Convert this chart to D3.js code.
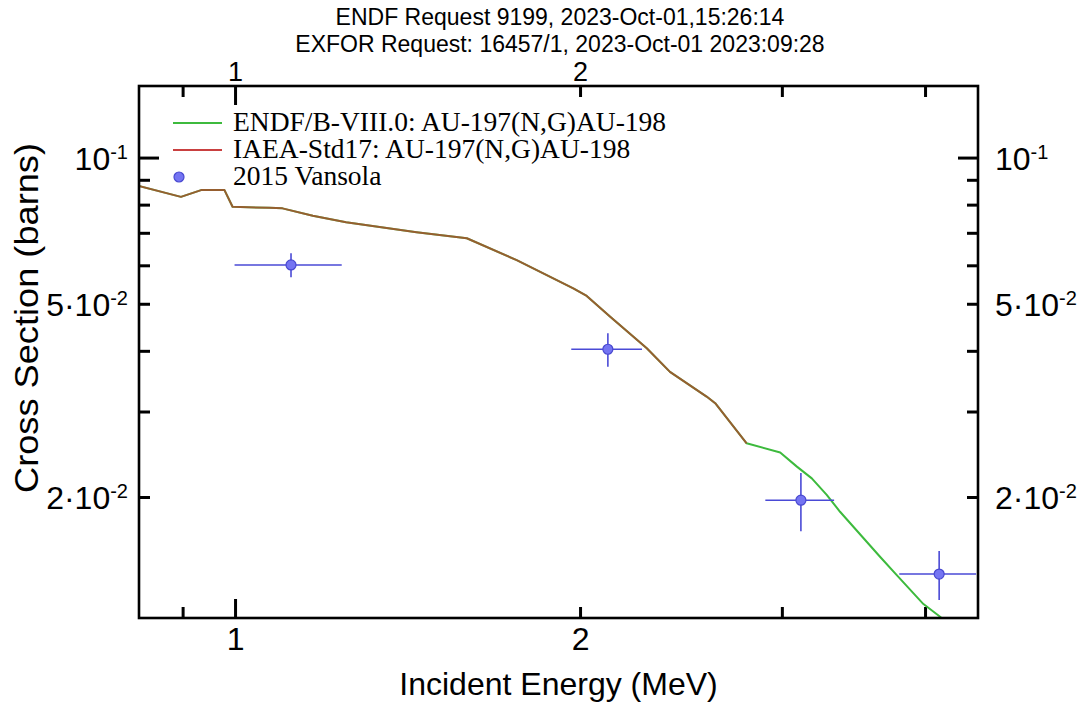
<!DOCTYPE html>
<html>
<head>
<meta charset="utf-8">
<script src="https://cdn.jsdelivr.net/npm/d3@7"></script>
<style>
  html, body { margin: 0; padding: 0; background: #fff; }
  svg { display: block; }
  .sans { font-family: "Liberation Sans", Arial, sans-serif; fill: #000; }
  .serif { font-family: "Liberation Serif", "Times New Roman", serif; fill: #000; }
</style>
</head>
<body>
<svg id="chart" width="1084" height="705"></svg>
<script>
// Au-197(n,g)Au-198 capture cross section, evaluated curves and measurement
const endfE  = [0.82, 0.897, 0.934, 0.979, 0.995, 1.071, 1.10, 1.169, 1.25, 1.44, 1.593, 1.761, 1.973, 2.027, 2.125, 2.287, 2.396, 2.579, 2.624, 2.795, 2.99, 3.092, 3.186, 3.283, 3.372, 3.654, 3.779, 3.987, 4.123, 4.25];
const endfXS = [0.0877, 0.0830, 0.0857, 0.0857, 0.0792, 0.0788, 0.0786, 0.0759, 0.0736, 0.0702, 0.0682, 0.0615, 0.0538, 0.0519, 0.0470, 0.0405, 0.0362, 0.0322, 0.0312, 0.0258, 0.0247, 0.0231, 0.02185, 0.0202, 0.01865, 0.01507, 0.01381, 0.01204, 0.01134, 0.0105];

const iaeaE  = [0.82, 0.897, 0.934, 0.979, 0.995, 1.071, 1.10, 1.169, 1.25, 1.44, 1.593, 1.761, 1.973, 2.027, 2.125, 2.287, 2.396, 2.579, 2.624, 2.795];
const iaeaXS = [0.0877, 0.0830, 0.0857, 0.0857, 0.0792, 0.0788, 0.0786, 0.0759, 0.0736, 0.0702, 0.0682, 0.0615, 0.0538, 0.0519, 0.0470, 0.0405, 0.0362, 0.0322, 0.0312, 0.0258];

// 2015 Vansola data with energy and cross-section uncertainties
const expE   = [1.119, 2.115, 3.117, 4.115];
const expDE  = [0.12, 0.15, 0.215, 0.317];
const expXS  = [0.0601, 0.0403, 0.0197, 0.01388];
const expDXS = [0.0034, 0.0032, 0.0027, 0.0016];

const xTicks = [0.9, 1, 2, 3, 4];
const xTickLabels = { 1: "1", 2: "2" };
const yTicks = [0.02, 0.03, 0.04, 0.05, 0.06, 0.07, 0.08, 0.09, 0.1];
const yTickLabels = { 0.1: ["10", "-1"], 0.05: ["5\u00b710", "-2"], 0.02: ["2\u00b710", "-2"] };

const legendItems = [
  { label: "ENDF/B-VIII.0: AU-197(N,G)AU-198", kind: "line", color: "#3dba3d" },
  { label: "IAEA-Std17: AU-197(N,G)AU-198", kind: "line", color: "#c94040" },
  { label: "2015 Vansola", kind: "point", color: "#7474f2" }
];

const titleLines = ["ENDF Request 9199, 2023-Oct-01,15:26:14", "EXFOR Request: 16457/1, 2023-Oct-01 2023:09:28"];

const svg = d3.select("#chart");
const plotL = 139, plotR = 978, plotT = 86, plotB = 618;

const x = d3.scaleLog().domain([0.8245, 4.449]).range([plotL, plotR]);
const y = d3.scaleLog().domain([0.01127, 0.1404]).range([plotB, plotT]);

const isDecade = v => Math.abs(Math.log10(v) - Math.round(Math.log10(v))) < 1e-9;

// clip region for data
svg.append("defs").append("clipPath").attr("id", "plotClip")
  .append("rect").attr("x", plotL).attr("y", plotT).attr("width", plotR - plotL).attr("height", plotB - plotT);

// titles
svg.append("g").selectAll("text").data(titleLines).join("text")
  .attr("class", "sans")
  .attr("x", 560).attr("y", (d, i) => 25 + i * 27)
  .attr("text-anchor", "middle")
  .style("font-size", "23px")
  .text(d => d);

const tickStroke = g => {
  g.select(".domain").remove();
  g.selectAll(".tick line").attr("stroke", "#000").attr("stroke-width", 3);
};

// bottom axis
const gx = svg.append("g").attr("transform", `translate(0,${plotB})`)
  .call(d3.axisBottom(x).tickValues(xTicks).tickSizeInner(-11).tickSizeOuter(0).tickPadding(9)
    .tickFormat(d => xTickLabels[d] || ""));
gx.call(tickStroke);
gx.selectAll(".tick line").attr("y2", d => isDecade(d) ? -19 : -11);
gx.selectAll(".tick text").attr("class", "sans").attr("font-family", null).style("font-size", "32px");

// top axis
const gxt = svg.append("g").attr("transform", `translate(0,${plotT})`)
  .call(d3.axisTop(x).tickValues(xTicks).tickSizeInner(-11).tickSizeOuter(0).tickPadding(5)
    .tickFormat(d => xTickLabels[d] || ""));
gxt.call(tickStroke);
gxt.selectAll(".tick line").attr("y2", d => isDecade(d) ? 19 : 11);
gxt.selectAll(".tick text").attr("class", "sans").attr("font-family", null).style("font-size", "27px");

// y tick labels with superscript exponent
function expLabels(g) {
  g.selectAll(".tick text").each(function (d) {
    const t = d3.select(this).text("").attr("class", "sans").attr("font-family", null)
      .style("font-size", "32px").attr("dy", "0.36em");
    const lab = yTickLabels[d];
    if (!lab) return;
    t.append("tspan").text(lab[0]);
    t.append("tspan").attr("dy", "-0.55em").style("font-size", "20px").text(lab[1]);
  });
}

const gy = svg.append("g").attr("transform", `translate(${plotL},0)`)
  .call(d3.axisLeft(y).tickValues(yTicks).tickSizeInner(-11).tickSizeOuter(0).tickPadding(11));
gy.call(tickStroke);
gy.selectAll(".tick line").attr("x2", d => isDecade(d) ? 20 : 11);
gy.call(expLabels);

const gyr = svg.append("g").attr("transform", `translate(${plotR},0)`)
  .call(d3.axisRight(y).tickValues(yTicks).tickSizeInner(-11).tickSizeOuter(0).tickPadding(17));
gyr.call(tickStroke);
gyr.selectAll(".tick line").attr("x2", d => isDecade(d) ? -20 : -11);
gyr.call(expLabels);

// axis titles
svg.append("text").attr("class", "sans")
  .attr("x", (plotL + plotR) / 2).attr("y", 695)
  .attr("text-anchor", "middle").style("font-size", "32px")
  .text("Incident Energy (MeV)");

svg.append("text").attr("class", "sans")
  .attr("transform", "translate(38,318) rotate(-90)")
  .attr("text-anchor", "middle").style("font-size", "33px")
  .attr("textLength", 350).attr("lengthAdjust", "spacingAndGlyphs")
  .text("Cross Section (barns)");

// data layer
const plot = svg.append("g").attr("clip-path", "url(#plotClip)");
const line = d3.line().x(d => x(d[0])).y(d => y(d[1]));

plot.append("path")
  .datum(endfE.map((e, i) => [e, endfXS[i]]))
  .attr("fill", "none").attr("stroke", legendItems[0].color).attr("stroke-width", 2)
  .attr("stroke-linejoin", "round").attr("d", line);

plot.append("path")
  .datum(iaeaE.map((e, i) => [e, iaeaXS[i]]))
  .attr("fill", "none").attr("stroke", "#b83a2a").attr("stroke-width", 2)
  .attr("stroke-opacity", 0.72).attr("stroke-linejoin", "round").attr("d", line);

const pts = expE.map((e, i) => ({ e, de: expDE[i], s: expXS[i], ds: expDXS[i] }));
const errColor = "#4a4ad6";
const pg = plot.append("g").selectAll("g").data(pts).join("g");
pg.append("line")
  .attr("x1", d => x(d.e - d.de)).attr("x2", d => x(d.e + d.de))
  .attr("y1", d => y(d.s)).attr("y2", d => y(d.s))
  .attr("stroke", errColor).attr("stroke-width", 1.6);
pg.append("line")
  .attr("x1", d => x(d.e)).attr("x2", d => x(d.e))
  .attr("y1", d => y(d.s - d.ds)).attr("y2", d => y(d.s + d.ds))
  .attr("stroke", errColor).attr("stroke-width", 1.6);
pg.append("circle")
  .attr("cx", d => x(d.e)).attr("cy", d => y(d.s)).attr("r", 5)
  .attr("fill", legendItems[2].color).attr("stroke", "#4848d0").attr("stroke-width", 1.2);

// legend
const lg = svg.append("g").selectAll("g").data(legendItems).join("g")
  .attr("transform", (d, i) => `translate(0,${123 + i * 27})`);
lg.filter(d => d.kind === "line").append("line")
  .attr("x1", 173).attr("x2", 222).attr("y1", 0).attr("y2", 0)
  .attr("stroke", d => d.color).attr("stroke-width", 1.8);
lg.filter(d => d.kind === "point").append("circle")
  .attr("cx", 179).attr("cy", 0).attr("r", 5)
  .attr("fill", d => d.color).attr("stroke", "#4848d0").attr("stroke-width", 1.2);
lg.append("text").attr("class", "serif")
  .attr("x", 233).attr("y", 8).style("font-size", "27.5px")
  .text(d => d.label);

// frame
svg.append("rect").attr("x", plotL).attr("y", plotT)
  .attr("width", plotR - plotL).attr("height", plotB - plotT)
  .attr("fill", "none").attr("stroke", "#000").attr("stroke-width", 2.6);
</script>
</body>
</html>
